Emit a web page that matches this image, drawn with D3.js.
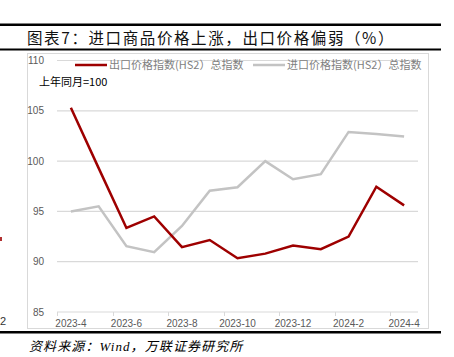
<!DOCTYPE html>
<html><head><meta charset="utf-8">
<script src="https://cdn.jsdelivr.net/npm/d3@7"></script>
<style>body{margin:0;background:#fff}svg{display:block}</style>
</head><body>
<script>
const months = ["2023-4","2023-5","2023-6","2023-7","2023-8","2023-9","2023-10","2023-11","2023-12","2024-1","2024-2","2024-3","2024-4"];
const exportIdx = [105.3,99.3,93.35,94.5,91.45,92.15,90.35,90.8,91.6,91.25,92.5,97.45,95.6];
const importIdx = [95.0,95.5,91.55,90.95,93.55,97.05,97.4,100.0,98.2,98.7,102.9,102.7,102.45];
const yTicks = [85,90,95,100,105,110];
const xLabels = ["2023-4","2023-6","2023-8","2023-10","2023-12","2024-2","2024-4"];
const seriesNames = ["出口价格指数(HS2）总指数","进口价格指数(HS2）总指数"];
const title = "图表7：进口商品价格上涨，出口价格偏弱（%）";
const source = "资料来源：Wind，万联证券研究所";
const note = "上年同月=100";

const W=454,H=357;
const svg=d3.select("body").append("svg").attr("width",W).attr("height",H);
const cjk="'Noto Sans CJK SC','Noto Sans',sans-serif";

// frame lines
svg.append("rect").attr("x",0).attr("y",23.5).attr("width",441).attr("height",2.5).attr("fill","#000");
svg.append("text").attr("x",27).attr("y",43.5).attr("font-family",cjk).attr("font-size",15.5).attr("letter-spacing",1.6).attr("fill","#111").text(title);
svg.append("rect").attr("x",0).attr("y",48.5).attr("width",441).attr("height",2).attr("fill","#000");
svg.append("rect").attr("x",27.5).attr("y",53.5).attr("width",401).attr("height",275).attr("fill","none").attr("stroke","#d9d9d9").attr("stroke-width",1);
svg.append("rect").attr("x",0).attr("y",331).attr("width",441).attr("height",2.5).attr("fill","#000");
svg.append("text").attr("x",29).attr("y",351).attr("font-family","'Liberation Serif',"+cjk).attr("font-style","italic").attr("font-size",13).attr("letter-spacing",1.1).attr("fill","#000").text(source);

// edge artifacts from neighbouring figure
svg.append("text").attr("x",0).attr("y",325).attr("font-family","'Liberation Sans',sans-serif").attr("font-size",11).attr("fill","#333").text("2");
svg.append("rect").attr("x",0).attr("y",237).attr("width",2).attr("height",4).attr("fill","#b03030");

const x=d3.scaleBand().domain(months).range([57,418]).padding(0);
const y=d3.scaleLinear().domain([85,110]).range([312,60.5]);

// gridlines
svg.append("g").selectAll("line").data(yTicks).join("line")
  .attr("x1",57).attr("x2",418).attr("y1",d=>y(d)).attr("y2",d=>y(d))
  .attr("stroke","#d9d9d9").attr("stroke-width",1.2);
svg.append("g").selectAll("text").data(yTicks).join("text")
  .attr("x",44).attr("y",d=>y(d)+3.5).attr("text-anchor","end")
  .attr("font-family","'Liberation Sans',Arial,sans-serif").attr("font-size",10).attr("fill","#595959").text(d=>d);

// x axis
const xAxis=d3.axisBottom(x).tickValues(xLabels).tickSize(0).tickPadding(0);
const gx=svg.append("g").attr("transform",`translate(0,${y(85)})`).call(xAxis);
gx.select(".domain").remove();
gx.selectAll("text").attr("y",15).attr("dy",0).attr("font-family","'Liberation Sans',Arial,sans-serif").attr("font-size",10).attr("fill","#595959");
svg.append("g").selectAll("line").data(xLabels).join("line")
  .attr("x1",d=>Math.round(x(d))+0.5).attr("x2",d=>Math.round(x(d))+0.5)
  .attr("y1",y(85)).attr("y2",y(85)+4).attr("stroke","#d9d9d9").attr("stroke-width",1);

const line=d3.line().x((d,i)=>x(months[i])+x.bandwidth()/2).y(d=>y(d));
svg.append("path").datum(importIdx).attr("d",line).attr("fill","none").attr("stroke","#c3c3c3").attr("stroke-width",2.5).attr("stroke-linejoin","miter");
svg.append("path").datum(exportIdx).attr("d",line).attr("fill","none").attr("stroke","#9e0000").attr("stroke-width",2.5).attr("stroke-linejoin","miter");

// legend
const legColors=["#9e0000","#c3c3c3"];
const legX=[75,253];
seriesNames.forEach((n,i)=>{
  svg.append("line").attr("x1",legX[i]).attr("x2",legX[i]+32).attr("y1",65).attr("y2",65).attr("stroke",legColors[i]).attr("stroke-width",2.5);
  svg.append("text").attr("x",legX[i]+34).attr("y",69).attr("font-family",cjk).attr("font-size",11).attr("fill","#7f7f7f").text(n);
});
svg.append("text").attr("x",39).attr("y",86).attr("font-family",cjk).attr("font-size",11).attr("fill","#000").text(note);
</script>
</body></html>
